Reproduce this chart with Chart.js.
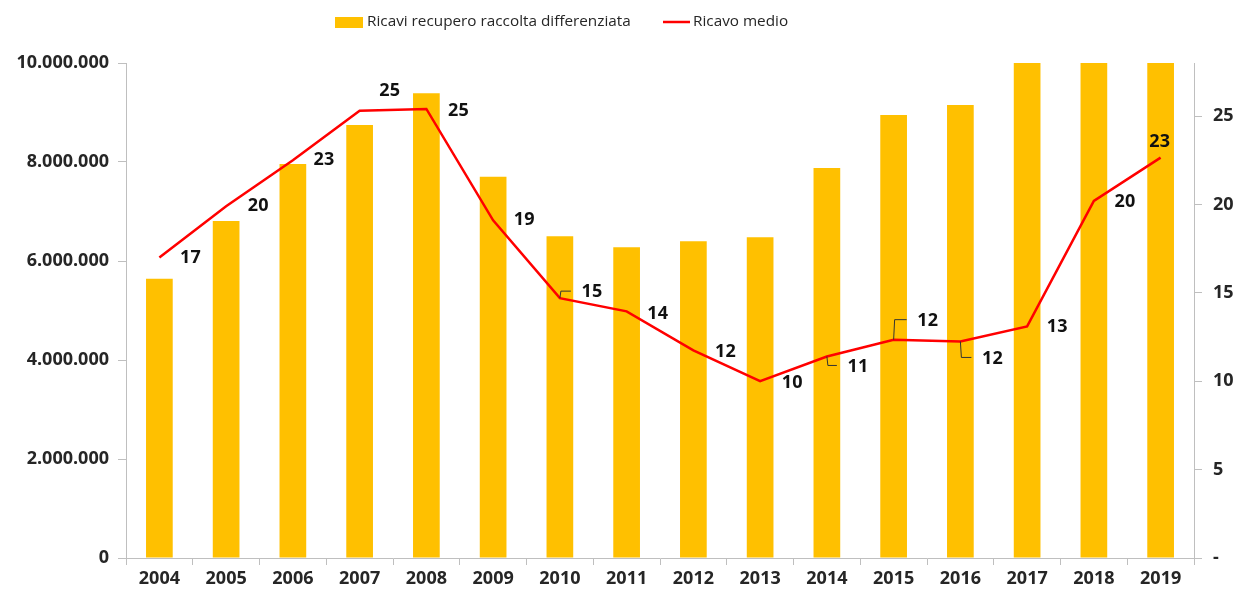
<!DOCTYPE html>
<html>
<head>
<meta charset="utf-8">
<script src="https://cdn.jsdelivr.net/npm/chart.js@4/dist/chart.umd.min.js"></script>
<style>
  html, body { margin: 0; padding: 0; background: #fff; }
  #wrap { width: 1244px; height: 595px; }
</style>
</head>
<body>
<div id="wrap"><canvas id="myChart"></canvas></div>
<script>
// values
const years = ['2004', '2005', '2006', '2007', '2008', '2009', '2010', '2011',
               '2012', '2013', '2014', '2015', '2016', '2017', '2018', '2019'];
const ricavi = [5640000, 6810000, 7960000, 8750000, 9390000, 7700000, 6500000, 6280000,
                6400000, 6480000, 7880000, 8950000, 9150000, 10000000, 10000000, 10000000];
const ricavoMedio = [17.0, 19.9, 22.5, 25.3, 25.4, 19.1, 14.7, 13.95,
                     11.75, 10.0, 11.4, 12.35, 12.25, 13.1, 20.2, 22.65];
const leftTicks = [0, 2000000, 4000000, 6000000, 8000000, 10000000];
const rightTicks = [0, 5, 10, 15, 20, 25];

// where each value label sits next to its point, and which ones get a leader line
const labelOffsets = [[31, 0], [32, 0], [31, 0], [30, -20], [32, 2], [31, 0], [32, -6], [31, 2],
                      [32, 2], [32, 2], [31, 10], [34, -19], [32, 17], [30, 0], [31, 1], [-1, -16]];
const withLeader = [6, 10, 11, 12];

const FONT = '"Open Sans", sans-serif';
const TXT = '#262626';

const itNum = v => Math.round(v).toString().replace(/\B(?=(\d{3})+(?!\d))/g, '.');

// value labels + leader lines on the red line
const lineLabels = {
    id: 'lineLabels',
    afterDatasetsDraw(chart) {
        const ctx = chart.ctx;
        const meta = chart.getDatasetMeta(1);
        ctx.save();
        ctx.font = 'bold 18px ' + FONT;
        ctx.fillStyle = '#111';
        ctx.textAlign = 'center';
        ctx.textBaseline = 'middle';
        meta.data.forEach((pt, i) => {
            const lx = pt.x + labelOffsets[i][0];
            const ly = pt.y + labelOffsets[i][1];
            if (withLeader.includes(i)) {
                ctx.strokeStyle = '#333';
                ctx.lineWidth = 1;
                ctx.beginPath();
                ctx.moveTo(pt.x, pt.y);
                ctx.lineTo(pt.x + 1, ly - 1);
                ctx.lineTo(lx - 21, ly - 1);
                ctx.stroke();
            }
            ctx.fillText(Math.round(ricavoMedio[i]), lx, ly);
        });
        ctx.restore();
    }
};

// legend drawn by hand to sit exactly like the original one
const topLegend = {
    id: 'topLegend',
    afterDraw(chart) {
        const ctx = chart.ctx;
        ctx.save();
        ctx.font = '15.3px ' + FONT;
        ctx.textBaseline = 'middle';
        ctx.fillStyle = '#FFC000';
        ctx.fillRect(335, 17, 28, 11);
        ctx.fillStyle = TXT;
        ctx.fillText(chart.data.datasets[0].label, 367, 22);
        ctx.strokeStyle = '#FF0000';
        ctx.lineWidth = 2.5;
        ctx.beginPath();
        ctx.moveTo(663, 22);
        ctx.lineTo(690, 22);
        ctx.stroke();
        ctx.fillText(chart.data.datasets[1].label, 693, 22);
        ctx.restore();
    }
};

const tickFont = { family: FONT, size: 18, weight: 'bold' };

const ctx = document.getElementById('myChart').getContext('2d');
const chart = new Chart(ctx, {
    type: 'bar',
    data: {
        labels: years,
        datasets: [{
            label: 'Ricavi recupero raccolta differenziata',
            data: ricavi,
            backgroundColor: '#FFC000',
            yAxisID: 'y',
            order: 2,
            barPercentage: 0.8,
            categoryPercentage: 0.5
        }, {
            type: 'line',
            label: 'Ricavo medio',
            data: ricavoMedio,
            borderColor: '#FF0000',
            borderWidth: 2.5,
            pointRadius: 0,
            tension: 0,
            yAxisID: 'y1',
            order: 1
        }]
    },
    options: {
        responsive: true,
        maintainAspectRatio: false,
        animation: false,
        layout: { padding: { top: 63, left: 0, right: 0, bottom: 0 } },
        plugins: {
            legend: { display: false },
            tooltip: { enabled: false }
        },
        scales: {
            x: {
                afterFit: s => { s.height = 37; },
                grid: { drawOnChartArea: false, color: '#BFBFBF', tickLength: 7, offset: true },
                border: { color: '#BFBFBF' },
                ticks: { color: TXT, font: tickFont, padding: 3, maxRotation: 0 }
            },
            y: {
                position: 'left',
                min: 0,
                max: 10000000,
                afterFit: s => { s.width = 126; },
                afterBuildTicks: s => { s.ticks = leftTicks.map(v => ({ value: v })); },
                grid: { drawOnChartArea: false, color: '#BFBFBF', tickLength: 8 },
                border: { color: '#BFBFBF' },
                ticks: {
                    color: TXT,
                    font: tickFont,
                    padding: 9,
                    callback: v => itNum(v)
                }
            },
            y1: {
                position: 'right',
                min: 0,
                max: 28,
                afterFit: s => { s.width = 50; },
                afterBuildTicks: s => { s.ticks = rightTicks.map(v => ({ value: v })); },
                grid: { drawOnChartArea: false, color: '#BFBFBF', tickLength: 8 },
                border: { color: '#BFBFBF' },
                ticks: {
                    color: TXT,
                    font: tickFont,
                    padding: 11,
                    callback: v => (v === 0 ? '-' : v)
                }
            }
        }
    },
    plugins: [lineLabels, topLegend]
});
</script>
</body>
</html>
